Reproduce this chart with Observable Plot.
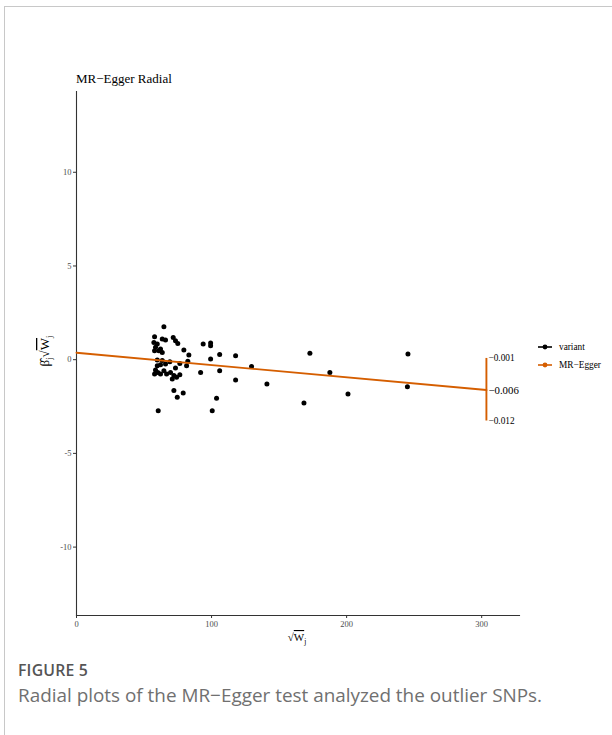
<!DOCTYPE html>
<html>
<head>
<meta charset="utf-8">
<script src="https://cdn.jsdelivr.net/npm/d3@7"></script>
<script src="https://cdn.jsdelivr.net/npm/@observablehq/plot@0.6"></script>
<style>
  html, body { margin: 0; padding: 0; background: #fff; }
  #page { position: relative; width: 612px; height: 735px; overflow: hidden; }
  #frame { position: absolute; left: 4px; top: 6px; width: 620px; height: 740px;
           border-top: 1px solid #c8c8c8; border-left: 1px solid #c8c8c8; }
  #chart { position: absolute; left: 0; top: 0; }
  #fig { position: absolute; left: 18px; top: 661px; font-family: "Open Sans", sans-serif;
         font-size: 15.8px; font-weight: 600; color: #555; letter-spacing: 0.2px; line-height: 1.2; }
  #cap { position: absolute; left: 18px; top: 684px; font-family: "Open Sans", sans-serif;
         font-size: 18.9px; font-weight: 400; color: #707070; line-height: 1.2; white-space: nowrap; }
</style>
</head>
<body>
<div id="page">
  <div id="frame"></div>
  <div id="chart"></div>
  <div id="fig">FIGURE 5</div>
  <div id="cap">Radial plots of the MR−Egger test analyzed the outlier SNPs.</div>
</div>
<script>
// Variant points: sqrt(W_j) and beta_j*sqrt(W_j)
const variantW = [64.7,57.8,63.5,65.9,71.6,73.3,75.0,57.3,59.8,58.5,62.2,61.0,57.8,79.5,63.5,83.2,59.8,63.5,69.1,65.9,62.2,59.8,76.5,82.4,81.5,58.5,60.2,57.8,62.2,64.7,66.7,73.3,69.6,72.1,70.9,74.1,76.5,72.1,79.0,74.6,60.5,
  93.8,99.3,99.3,106,117.8,99.3,91.9,106,129.6,117.8,103.7,100.5,
  141,172.8,168.4,187.6,201,245.4,245];
const variantB = [1.76,1.23,1.10,1.05,1.19,1.01,0.87,0.92,0.84,0.66,0.57,0.48,0.48,0.52,0.39,0.25,-0.02,-0.05,-0.11,-0.23,-0.27,-0.32,-0.20,-0.09,-0.32,-0.55,-0.68,-0.76,-0.76,-0.59,-0.76,-0.44,-0.68,-0.85,-1.03,-0.94,-0.80,-1.65,-1.78,-2.01,-2.72,
  0.84,0.89,0.75,0.27,0.21,0.04,-0.68,-0.59,-0.37,-1.08,-2.06,-2.72,
  -1.3,0.34,-2.31,-0.69,-1.83,0.3,-1.44];

// MR-Egger fit
const eggerIntercept = 0.37;
const eggerSlope = -0.00656;
const scaleRadius = 303.5;
const scaleSlopes = [-0.001, eggerSlope, -0.012];
const scaleLabels = ["−0.001", "−0.006", "−0.012"];
const scaleLabelSizes = [9.3, 10.8, 9.3];

const xTicks = [0, 100, 200, 300];
const yTicks = [-10, -5, 0, 5, 10];
const xDomain = [0, 328];
const yDomain = [-13.65, 14.31];

const orange = "#D55E00";
const serif = "'Liberation Serif', 'Times New Roman', serif";

const points = variantW.map((w, i) => ({w, b: variantB[i]}));
const eggerLine = [0, scaleRadius].map(w => ({w, b: eggerIntercept + eggerSlope * w}));
const scalePts = scaleSlopes.map((s, i) => ({w: scaleRadius, b: eggerIntercept + s * scaleRadius, label: scaleLabels[i], size: scaleLabelSizes[i]}));
const scaleBar = [{w: scaleRadius, b1: eggerIntercept + scaleSlopes[0] * scaleRadius, b2: eggerIntercept + scaleSlopes[2] * scaleRadius}];

const W = 612, H = 650;
const plot = Plot.plot({
  width: W, height: H,
  marginLeft: 76, marginRight: 93, marginTop: 91, marginBottom: 35,
  style: {fontFamily: serif, background: "transparent", overflow: "visible"},
  x: {domain: xDomain},
  y: {domain: yDomain},
  marks: [
    Plot.axisX({ticks: xTicks, tickSize: 3, tickPadding: 2, fontSize: 8.5, fill: "#4d4d4d", stroke: "#333", label: null, tickFormat: d => d}),
    Plot.axisY({ticks: yTicks, tickSize: 3, tickPadding: 2, fontSize: 8.5, fill: "#4d4d4d", stroke: "#333", label: null, tickFormat: d => d}),
    Plot.frame({anchor: "left", stroke: "#333", strokeWidth: 1.1}),
    Plot.frame({anchor: "bottom", stroke: "#333", strokeWidth: 1.1}),
    Plot.dot(points, {x: "w", y: "b", r: 2.5, fill: "black", stroke: "none"}),
    Plot.line(eggerLine, {x: "w", y: "b", stroke: orange, strokeWidth: 1.9}),
    Plot.ruleX(scaleBar, {x: "w", y1: "b1", y2: "b2", stroke: orange, strokeWidth: 1.9}),
    Plot.text(scalePts, {x: "w", y: "b", text: "label", fontSize: "size", textAnchor: "start", dx: 2, fill: "black", fontFamily: serif})
  ]
});
document.getElementById("chart").appendChild(plot);

const svg = d3.select(plot);
// Title
svg.append("text").attr("x", 76).attr("y", 83).attr("text-anchor", "start").attr("font-family", serif).attr("font-size", 13).attr("fill", "black").text("MR−Egger Radial");

// X label: sqrt(W_j)
const xl = svg.append("text").attr("x", 297).attr("y", 641).attr("text-anchor", "middle").attr("font-family", serif).attr("font-size", 11).attr("fill", "black");
xl.append("tspan").text("√");
xl.append("tspan").style("text-decoration", "overline").text("W");
xl.append("tspan").attr("font-size", 7.5).attr("dy", 2.5).text("j");

// Y label: beta_j sqrt(W_j)
const yl = svg.append("text").attr("transform", "translate(49,351) rotate(-90)").attr("text-anchor", "middle").attr("font-family", serif).attr("font-size", 13).attr("fill", "black");
yl.append("tspan").text("β̂");
yl.append("tspan").attr("font-size", 8.5).attr("dy", 3).text("j");
yl.append("tspan").attr("dy", -3).text("√");
yl.append("tspan").style("text-decoration", "overline").text("W");
yl.append("tspan").attr("font-size", 8.5).attr("dy", 3).text("j");

// Legend
const legend = [{label: "variant", color: "black", y: 347}, {label: "MR−Egger", color: orange, y: 365}];
const lg = svg.append("g").attr("text-anchor", "start");
legend.forEach(d => {
  lg.append("line").attr("x1", 538).attr("x2", 552).attr("y1", d.y).attr("y2", d.y).attr("stroke", d.color).attr("stroke-width", 1.6);
  lg.append("circle").attr("cx", 545).attr("cy", d.y).attr("r", 2.4).attr("fill", d.color);
  lg.append("text").attr("x", 559).attr("y", d.y + 3).attr("text-anchor", "start").attr("font-family", serif).attr("font-size", 9.3).attr("fill", "black").text(d.label);
});
</script>
</body>
</html>
